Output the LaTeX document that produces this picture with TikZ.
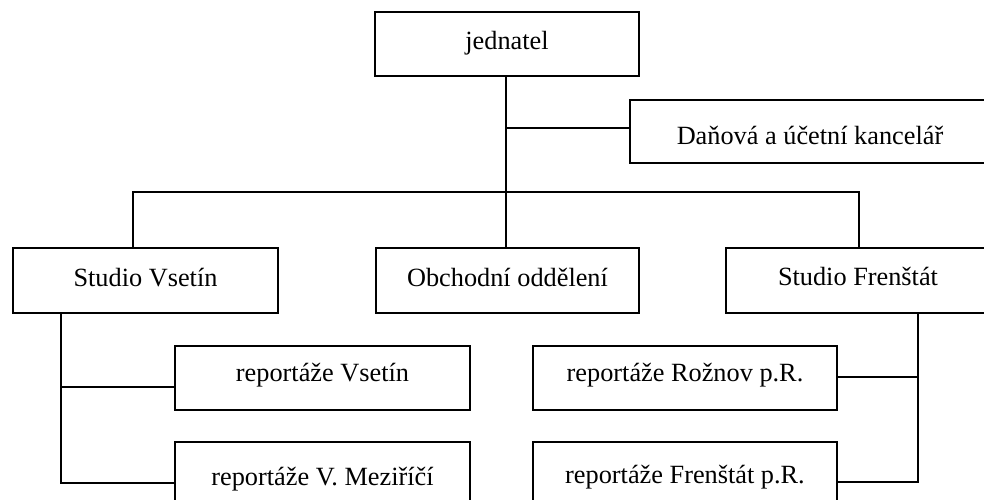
\documentclass[tikz,border=0pt]{standalone}
\usepackage{fontspec}
\setmainfont{Liberation Serif}
\begin{document}
\begin{tikzpicture}[x=1pt,y=-1pt,
  box/.style={draw, line width=1.3pt, inner sep=0pt},
  lbl/.style={anchor=base, inner sep=0pt, font=\fontsize{26.3}{30}\selectfont},
  conn/.style={line width=1.3pt}]
\useasboundingbox (0,0) rectangle (984,500);
\clip (0,0) rectangle (984,500);
% boxes
\node[box, minimum width=264pt, minimum height=64pt] (jed) at (507,44) {};
\node[box, minimum width=360pt, minimum height=63pt] (dan) at (810,131.5) {};
\node[box, minimum width=265pt, minimum height=65pt] (sv) at (145.5,280.5) {};
\node[box, minimum width=263pt, minimum height=65pt] (ob) at (507.5,280.5) {};
\node[box, minimum width=264pt, minimum height=65pt] (sf) at (858,280.5) {};
\node[box, minimum width=295pt, minimum height=64pt] (rv) at (322.5,378) {};
\node[box, minimum width=295pt, minimum height=64pt] (rm) at (322.5,474) {};
\node[box, minimum width=304pt, minimum height=64pt] (rr) at (685,378) {};
\node[box, minimum width=304pt, minimum height=64pt] (rf) at (685,474) {};
% labels
\node[lbl] (tjed) at ([yshift=-6pt]jed.center) {jednatel};
\node[lbl] (tdan) at ([yshift=-12.5pt]dan.center) {Daňová a účetní kancelář};
\node[lbl] (tsv) at ([yshift=-5.5pt]sv.center) {Studio Vsetín};
\node[lbl] (tob) at ([yshift=-5.5pt]ob.center) {Obchodní oddělení};
\node[lbl] (tsf) at ([yshift=-4.5pt]sf.center) {Studio Frenštát};
\node[lbl] (trv) at ([yshift=-3.7pt]rv.center) {reportáže Vsetín};
\node[lbl] (trm) at ([yshift=-11pt]rm.center) {reportáže V. Meziříčí};
\node[lbl] (trr) at ([yshift=-3.7pt]rr.center) {reportáže Rožnov p.R.};
\node[lbl] (trf) at ([yshift=-9.3pt]rf.center) {reportáže Frenštát p.R.};
% connectors
\coordinate (jx) at (506,128);
\draw[conn] (jx |- jed.south) -- (jx |- ob.north);
\draw[conn] (jx) -- (jx -| dan.west);
\coordinate (bl) at (133,192);
\coordinate (br) at (859,192);
\draw[conn] (bl |- sv.north) -- (bl) -- (br) -- (br |- sf.north);
\coordinate (la) at (61,387);
\coordinate (lb) at (61,483);
\draw[conn] (la |- sv.south) -- (lb) -- (lb -| rm.west);
\draw[conn] (la) -- (la -| rv.west);
\coordinate (ra) at (918,377);
\coordinate (rb) at (918,482);
\draw[conn] (ra |- sf.south) -- (rb) -- (rb -| rf.east);
\draw[conn] (ra) -- (ra -| rr.east);
\end{tikzpicture}
\end{document}
